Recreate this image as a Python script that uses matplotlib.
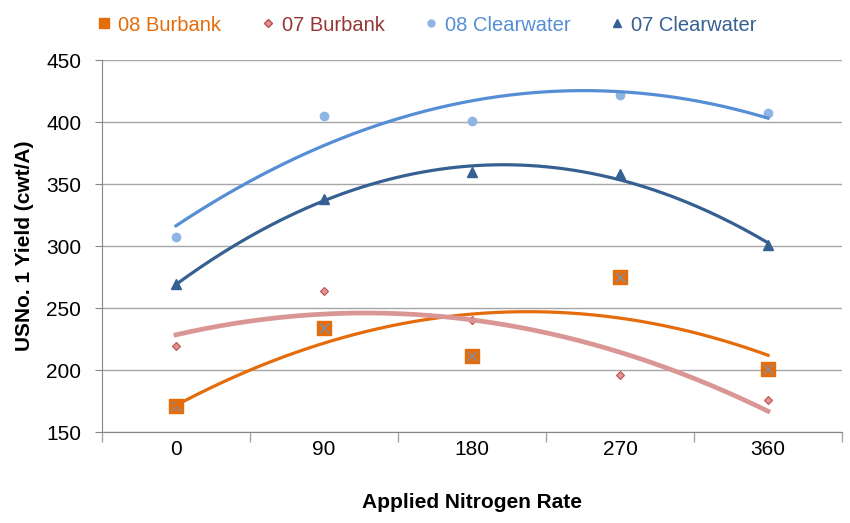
import numpy as np
import matplotlib
matplotlib.use("Agg")
from matplotlib import pyplot as plt
from matplotlib.lines import Line2D

plt.rcParams['font.family'] = ['Liberation Sans Narrow', 'Liberation Sans', 'DejaVu Sans']

rates = ["0", "90", "180", "270", "360"]
burbank_08 = [171, 234, 211, 275, 201]
burbank_07 = [219, 264, 240, 196, 176]
clearwater_08 = [307, 405, 401, 422, 407]
clearwater_07 = [269, 338, 360, 358, 301]

x = np.arange(len(rates))
xs = np.linspace(0, len(rates) - 1, 200)

fig = plt.figure(figsize=(8.5, 5.23), dpi=100)
ax = fig.add_axes([102 / 850, 1 - 432 / 523, 740 / 850, 372 / 523])


def trend(y):
    return np.polyval(np.polyfit(x, y, 2), xs)


# points first, quadratic trendlines on top (like Excel)
ax.plot(x, burbank_08, 's', color='#E46C0A', ms=10, zorder=3)
ax.plot(x, burbank_08, 'x', color='#7F8FA6', ms=7, mew=1, zorder=3)
ax.plot(x, burbank_07, 'D', color='#D99694', mec='#C0504D', mew=0.8, ms=4.5, zorder=3)
ax.plot(x, clearwater_08, 'o', color='#8EB4E3', ms=6, zorder=3)
ax.plot(x, clearwater_07, '^', color='#376092', ms=7, zorder=3)

ax.plot(xs, trend(burbank_08), color='#E46C0A', lw=2.3, zorder=4)
ax.plot(xs, trend(burbank_07), color='#D99694', lw=3.4, zorder=4)
ax.plot(xs, trend(clearwater_08), color='#558ED5', lw=2.3, zorder=4)
ax.plot(xs, trend(clearwater_07), color='#376092', lw=2.3, zorder=4)

ax.set_xlim(-0.5, len(rates) - 0.5)
ax.set_ylim(150, 450)
ax.set_yticks(range(150, 451, 50))
ax.yaxis.grid(True, color='#A6A6A6', lw=1)
ax.set_axisbelow(True)

# category axis: ticks between categories, labels at the centres
ax.set_xticks(np.arange(-0.5, len(rates), 1))
ax.set_xticklabels([])
ax.set_xticks(x, minor=True)
ax.set_xticklabels(rates, minor=True)
ax.tick_params(axis='x', which='major', length=7, color='#A6A6A6', width=1)
ax.tick_params(axis='x', which='minor', length=0, pad=6, labelsize=15)
ax.tick_params(axis='y', length=5, color='#868686', pad=10, labelsize=15)

for s in ('top', 'right'):
    ax.spines[s].set_visible(False)
for s in ('left', 'bottom'):
    ax.spines[s].set_color('#868686')

ax.set_xlabel("Applied Nitrogen Rate", fontsize=15, fontweight='bold', labelpad=24)
ax.set_ylabel("USNo. 1 Yield (cwt/A)", fontsize=15, fontweight='bold', labelpad=9)

handles = [
    (Line2D([], [], ls='', marker='s', color='#E46C0A', ms=7), "08 Burbank", '#E36C09'),
    (Line2D([], [], ls='', marker='D', color='#D99694', mec='#C0504D', ms=4), "07 Burbank", '#953735'),
    (Line2D([], [], ls='', marker='o', color='#8EB4E3', ms=5), "08 Clearwater", '#558ED5'),
    (Line2D([], [], ls='', marker='^', color='#376092', ms=6), "07 Clearwater", '#376092'),
]
leg = fig.legend([h[0] for h in handles], [h[1] for h in handles], ncol=4,
                 loc='upper left', bbox_to_anchor=(80 / 850, 1.005), frameon=False,
                 fontsize=14.5, handlelength=0.6, handletextpad=0.4, columnspacing=2.0)
for t, h in zip(leg.get_texts(), handles):
    t.set_color(h[2])

fig.savefig("out.png", dpi=100)
